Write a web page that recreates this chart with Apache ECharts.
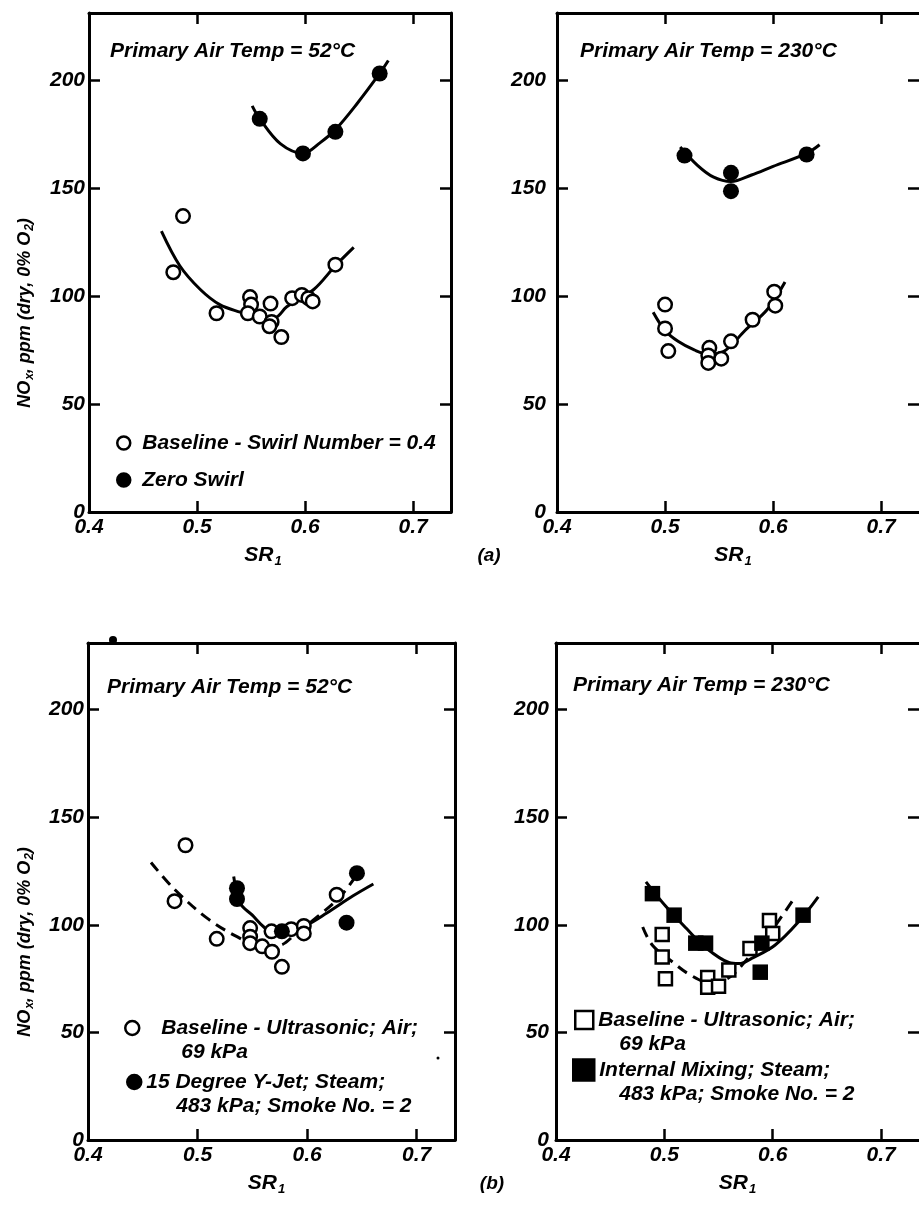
<!DOCTYPE html>
<html>
<head>
<meta charset="utf-8">
<script src="https://cdn.jsdelivr.net/npm/echarts@6/dist/echarts.min.js"></script>
<style>
  html, body { margin: 0; padding: 0; background: #fff; }
  #chart { width: 919px; height: 1205px; }
</style>
</head>
<body>
<div id="chart"></div>
<script>
// NOx emissions (ppm, dry, 0% O2) against primary stoichiometric ratio SR1.
// Each point is [SR1, NOx].

// (a) swirl comparison, primary air 52 °C
const swirlBase52 = [[0.487, 137], [0.478, 111], [0.518, 92], [0.549, 99.5], [0.550, 96], [0.547, 92],
  [0.558, 90.5], [0.568, 96.5], [0.569, 88], [0.567, 86], [0.578, 81], [0.588, 99], [0.597, 100.5],
  [0.603, 99], [0.607, 97.5], [0.628, 114.5]];
const zeroSwirl52 = [[0.558, 182], [0.598, 166], [0.628, 176], [0.669, 203]];
const swirlBaseFit52 = [[0.467, 130], [0.484, 114], [0.503, 103], [0.521, 96], [0.540, 92.5], [0.558, 90],
  [0.572, 90], [0.583, 95], [0.608, 103], [0.628, 114], [0.645, 122.5]];
const zeroSwirlFit52 = [[0.551, 188], [0.558, 182], [0.577, 170.5], [0.598, 166], [0.614, 171], [0.628, 177],
  [0.648, 189], [0.669, 203], [0.677, 209]];

// (a) swirl comparison, primary air 230 °C
const swirlBase230 = [[0.500, 96], [0.500, 85], [0.503, 74.5], [0.541, 76], [0.540, 72.5], [0.540, 69],
  [0.552, 71], [0.561, 79], [0.581, 89], [0.601, 102], [0.602, 95.5]];
const zeroSwirl230 = [[0.518, 165], [0.561, 157], [0.561, 148.5], [0.631, 165.5]];
const swirlBaseFit230 = [[0.489, 92.5], [0.500, 84], [0.512, 79], [0.527, 75], [0.540, 73], [0.555, 74.5],
  [0.574, 84], [0.595, 94], [0.611, 106.5]];
const zeroSwirlFit230 = [[0.514, 169], [0.530, 160.5], [0.545, 155], [0.561, 153], [0.580, 156],
  [0.600, 160], [0.631, 166], [0.643, 170]];

// (b) atomizer comparison, primary air 52 °C
const ultraBase52 = [[0.489, 137], [0.479, 111], [0.5175, 93.5], [0.548, 98.5], [0.548, 94.5], [0.548, 91.5],
  [0.559, 90], [0.5675, 97], [0.568, 87.5], [0.577, 80.5], [0.5855, 98], [0.597, 99.5], [0.597, 96],
  [0.627, 114]];
const yJet52 = [[0.536, 117], [0.536, 112], [0.577, 97], [0.6455, 124], [0.636, 101]];
const ultraBaseFit52 = [[0.4575, 129], [0.479, 116.5], [0.509, 103], [0.536, 94.5], [0.558, 90], [0.575, 90.5],
  [0.590, 96], [0.610, 104], [0.630, 113], [0.645, 123]];
const yJetFit52 = [[0.533, 122.5], [0.539, 110], [0.550, 104.5], [0.5605, 99], [0.570, 96], [0.582, 97],
  [0.600, 100], [0.618, 105.5], [0.642, 113.5], [0.6605, 119]];

// (b) atomizer comparison, primary air 230 °C
const ultraBase230 = [[0.498, 95.5], [0.498, 85], [0.501, 75], [0.540, 75.5], [0.540, 71], [0.550, 71.5],
  [0.5595, 79], [0.579, 89], [0.597, 102], [0.600, 96]];
const internalMix230 = [[0.489, 114.5], [0.509, 104.5], [0.529, 91.5], [0.538, 91.5], [0.590, 91.5],
  [0.5885, 78], [0.628, 104.5]];
const ultraBaseFit230 = [[0.480, 99], [0.489, 90.5], [0.5076, 82.7], [0.523, 77], [0.540, 73.5], [0.556, 74.5],
  [0.580, 86], [0.597, 96], [0.607, 103], [0.618, 111]];
const internalMixFit230 = [[0.483, 120], [0.5015, 108.5], [0.520, 98.5], [0.538, 89.5], [0.5595, 82.5],
  [0.569, 82], [0.581, 84.5], [0.602, 90.5], [0.624, 101.5], [0.642, 113]];

// Axis ticks and text
const xTicks = [0.4, 0.5, 0.6, 0.7];
const yTicks = [0, 50, 100, 150, 200];
const panelTitles = ['Primary Air Temp = 52°C', 'Primary Air Temp = 230°C',
  'Primary Air Temp = 52°C', 'Primary Air Temp = 230°C'];
const nameSwirlBase = 'Baseline - Swirl Number = 0.4';
const nameZeroSwirl = 'Zero Swirl';
const nameUltraBase = 'Baseline - Ultrasonic; Air; 69 kPa';
const nameYJet = '15 Degree Y-Jet; Steam; 483 kPa; Smoke No. = 2';
const nameInternalMix = 'Internal Mixing; Steam; 483 kPa; Smoke No. = 2';

// ---- layout & styling ----
const FONT = "'Liberation Sans', Arial, Helvetica, sans-serif";
const txt = { fontFamily: FONT, fontWeight: 'bold', fontStyle: 'italic', color: '#000' };

const panels = [
  { left: 89, top: 13, width: 362, height: 499, yMargin: 4, rightLine: true, namePad: 14 },
  { left: 557, top: 13, width: 362, height: 499, yMargin: 11, rightLine: false, namePad: 10 },
  { left: 88, top: 643, width: 367, height: 497, yMargin: 4, rightLine: true, namePad: 10 },
  { left: 556, top: 643, width: 363, height: 497, yMargin: 7, rightLine: false, namePad: 0 }
];
const X_MIN = 0.4, X_MAX = 0.735, Y_MIN = 0, Y_MAX = 231;

const lineStyleAxis = { color: '#000', width: 3 };
const tickStyle = { show: true, inside: true, length: 11, lineStyle: { color: '#000', width: 2.5 } };

const subRich = {
  m: { ...txt, fontSize: 21, lineHeight: 25 },
  s: { ...txt, fontSize: 13, lineHeight: 13, padding: [12, 0, 0, 1] }
};

const xAxis = [];
const yAxis = [];
panels.forEach((p, i) => {
  xAxis.push({
    gridIndex: i, type: 'value', position: 'bottom', min: X_MIN, max: X_MAX, interval: 0.1,
    axisLine: { show: true, onZero: false, lineStyle: lineStyleAxis },
    axisTick: { ...tickStyle, customValues: xTicks },
    axisLabel: { ...txt, fontSize: 21, margin: 5, customValues: xTicks, formatter: v => v.toFixed(1) },
    splitLine: { show: false },
    name: '{m|SR}{s|1}', nameLocation: 'middle', nameGap: 31,
    nameTextStyle: { rich: subRich, padding: [0, p.namePad, 0, 0] }
  });
  xAxis.push({
    gridIndex: i, type: 'value', position: 'top', min: X_MIN, max: X_MAX, interval: 0.1,
    axisLine: { show: true, onZero: false, lineStyle: lineStyleAxis },
    axisTick: { ...tickStyle, customValues: xTicks },
    axisLabel: { show: false }, splitLine: { show: false }
  });
  yAxis.push({
    gridIndex: i, type: 'value', position: 'left', min: Y_MIN, max: Y_MAX, interval: 50,
    axisLine: { show: true, onZero: false, lineStyle: lineStyleAxis },
    axisTick: { ...tickStyle, customValues: yTicks },
    axisLabel: { ...txt, fontSize: 21, margin: p.yMargin, customValues: yTicks },
    splitLine: { show: false }
  });
  yAxis.push({
    gridIndex: i, type: 'value', position: 'right', min: Y_MIN, max: Y_MAX, interval: 50,
    axisLine: { show: p.rightLine, onZero: false, lineStyle: lineStyleAxis },
    axisTick: { ...tickStyle, customValues: yTicks },
    axisLabel: { show: false }, splitLine: { show: false }
  });
});

const grid = panels.map(p => ({ left: p.left, top: p.top, width: p.width, height: p.height, show: false }));

function fitLine(name, panel, data, dashed) {
  return {
    name, type: 'line', xAxisIndex: panel * 2, yAxisIndex: panel * 2, data,
    smooth: 0.35, showSymbol: false, silent: true, z: 2,
    lineStyle: { color: '#000', width: 3, type: dashed ? [11, 7] : 'solid' }
  };
}
function points(name, panel, data, symbol, filled, size) {
  return {
    name, type: 'scatter', xAxisIndex: panel * 2, yAxisIndex: panel * 2, data,
    symbol, symbolSize: size, z: 3, silent: true,
    itemStyle: filled ? { color: '#000', borderColor: '#000', borderWidth: 0, opacity: 1 }
                      : { color: '#fff', borderColor: '#000', borderWidth: 2.5, opacity: 1 }
  };
}

const series = [
  fitLine('Baseline fit 52', 0, swirlBaseFit52, false),
  fitLine('Zero swirl fit 52', 0, zeroSwirlFit52, false),
  points(nameSwirlBase, 0, swirlBase52, 'circle', false, 13.5),
  points(nameZeroSwirl, 0, zeroSwirl52, 'circle', true, 16),

  fitLine('Baseline fit 230', 1, swirlBaseFit230, false),
  fitLine('Zero swirl fit 230', 1, zeroSwirlFit230, false),
  points(nameSwirlBase, 1, swirlBase230, 'circle', false, 13.5),
  points(nameZeroSwirl, 1, zeroSwirl230, 'circle', true, 16),

  fitLine('Ultrasonic fit 52', 2, ultraBaseFit52, true),
  fitLine('Y-jet fit 52', 2, yJetFit52, false),
  points(nameUltraBase, 2, ultraBase52, 'circle', false, 13.5),
  points(nameYJet, 2, yJet52, 'circle', true, 16),

  fitLine('Ultrasonic fit 230', 3, ultraBaseFit230, true),
  fitLine('Internal mixing fit 230', 3, internalMixFit230, false),
  points(nameUltraBase, 3, ultraBase230, 'rect', false, 13),
  points(nameInternalMix, 3, internalMix230, 'rect', true, 15.5)
];

// Legend text: first line, second line, indents (px) of each line
const legendLines = {
  [nameUltraBase]: ['Baseline - Ultrasonic; Air;', '69 kPa'],
  [nameYJet]: ['15 Degree Y-Jet; Steam;', '483 kPa; Smoke No. = 2'],
  [nameInternalMix]: ['Internal Mixing; Steam;', '483 kPa; Smoke No. = 2']
};
function twoLineLegend(name, icon, left, top, size, indent1, indent2) {
  const [l1, l2] = legendLines[name];
  return {
    left, top, orient: 'vertical', padding: 0, itemWidth: size, itemHeight: size,
    selectedMode: false, data: [{ name, icon }],
    itemStyle: { borderWidth: 2.5, opacity: 1 },
    formatter: () => (indent1 ? '{a| }' : '') + l1 + '\n{b| }' + l2,
    textStyle: {
      ...txt, fontSize: 21, lineHeight: 24, padding: [24, 0, 0, 0],
      rich: {
        a: { ...txt, fontSize: 21, lineHeight: 24, width: indent1 },
        b: { ...txt, fontSize: 21, lineHeight: 24, width: indent2 }
      }
    }
  };
}

const legend = [
  {
    left: 116, top: 431, orient: 'vertical', padding: 0, itemWidth: 13, itemHeight: 13, itemGap: 13,
    selectedMode: false,
    data: [{ name: nameSwirlBase, icon: 'circle' }, { name: nameZeroSwirl, icon: 'circle' }],
    itemStyle: { borderWidth: 2.5, opacity: 1 },
    textStyle: { ...txt, fontSize: 21, lineHeight: 24, padding: [0, 0, 0, 7] }
  },
  twoLineLegend(nameUltraBase, 'circle', 124, 992, 14, 17, 37),
  twoLineLegend(nameYJet, 'circle', 126, 1046, 14, 0, 30),
  twoLineLegend(nameUltraBase, 'rect', 574, 984, 18, 0, 21),
  twoLineLegend(nameInternalMix, 'rect', 572, 1034, 21, 0, 20)
];

const titlePos = [[110, 41], [580, 41], [107, 677], [573, 675]];
const title = panelTitles.map((t, i) => ({
  text: t, left: titlePos[i][0], top: titlePos[i][1], padding: 0,
  textStyle: { ...txt, fontSize: 21 }
}));

const yNameRich = {
  m: { ...txt, fontSize: 18, lineHeight: 22 },
  s: { ...txt, fontSize: 12, lineHeight: 12, padding: [10, 0, 0, 1] }
};
const yName = '{m|NO}{s|x}{m|, ppm (dry, 0% O}{s|2}{m|)}';

const graphic = [
  { type: 'text', x: 25, y: 313, rotation: Math.PI / 2,
    style: { text: yName, rich: yNameRich, align: 'center', verticalAlign: 'middle' } },
  { type: 'text', x: 25, y: 942, rotation: Math.PI / 2,
    style: { text: yName, rich: yNameRich, align: 'center', verticalAlign: 'middle' } },
  { type: 'text', x: 489, y: 556,
    style: { text: '(a)', font: `italic bold 19px ${FONT}`, fill: '#000', align: 'center', verticalAlign: 'middle' } },
  { type: 'text', x: 492, y: 1184,
    style: { text: '(b)', font: `italic bold 19px ${FONT}`, fill: '#000', align: 'center', verticalAlign: 'middle' } },
  { type: 'circle', shape: { cx: 113, cy: 640, r: 4 }, style: { fill: '#000' } },
  { type: 'circle', shape: { cx: 438, cy: 1058, r: 1.5 }, style: { fill: '#000' } }
];

const chart = echarts.init(document.getElementById('chart'), null, { renderer: 'canvas' });
chart.setOption({
  animation: false,
  backgroundColor: '#fff',
  title, grid, xAxis, yAxis, legend, series, graphic
});
</script>
</body>
</html>
